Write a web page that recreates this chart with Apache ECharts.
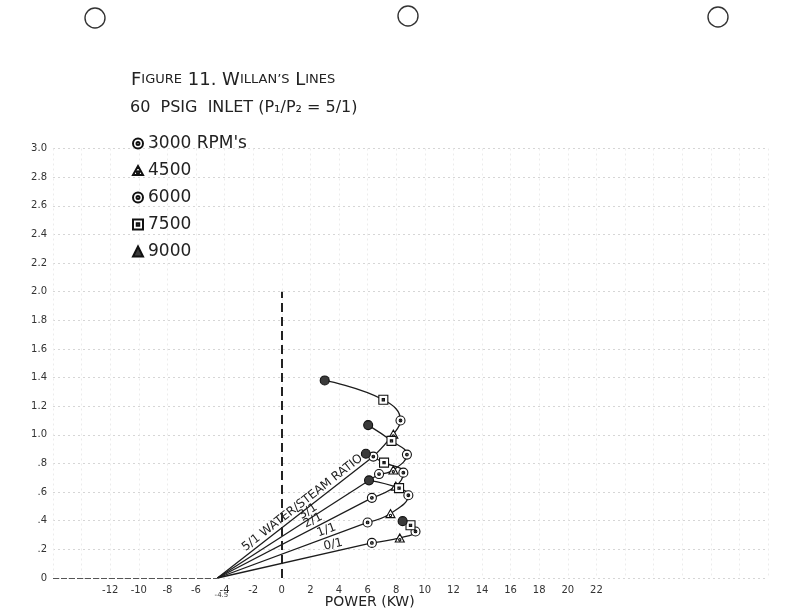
<!DOCTYPE html>
<html><head><meta charset="utf-8">
<script src="https://cdn.jsdelivr.net/npm/echarts@6/dist/echarts.min.js"></script>
<style>html,body{margin:0;padding:0;background:#fff}#c{width:793px;height:612px}</style>
</head><body><div id="c"></div>
<script>
// ---- data ----
const ratioNames = ['0/1', '1/1', '2/1', '3/1', '5/1'];
const rpmNames = ["3000 RPM's", '4500', '6000', '7500', '9000'];
const xTickLabels = ['-12','-10','-8','-6','-4','-2','0','2','4','6','8','10','12','14','16','18','20','22'];
const yTickLabels = ['0','.2','.4','.6','.8','1.0','1.2','1.4','1.6','1.8','2.0','2.2','2.4','2.6','2.8','3.0'];
const noLoadPower = -4.5;      // common intercept of Willan's lines (kW)
const zeroLineTop = 2.0;       // top of dashed zero-power line
// points ordered 3000, 4500, 6000, 7500, 9000 RPM
const power0to1 = [6.3, 8.25, 9.35, 9.0, 8.45];
const flow0to1  = [0.245, 0.28, 0.325, 0.368, 0.397];
const power1to1 = [6.0, 7.6, 8.85, 8.2, 6.1];
const flow1to1  = [0.388, 0.45, 0.578, 0.628, 0.682];
const power2to1 = [6.3, 7.97, 8.5, 7.15, 5.88];
const flow2to1  = [0.56, 0.642, 0.736, 0.806, 0.868];
const power3to1 = [6.8, 7.8, 8.75, 7.67, 6.04];
const flow3to1  = [0.726, 0.755, 0.862, 0.958, 1.068];
const power5to1 = [6.4, 7.8, 8.3, 7.1, 3.0];
const flow5to1  = [0.848, 1.005, 1.1, 1.245, 1.38];

const powers = [power0to1, power1to1, power2to1, power3to1, power5to1];
const flows  = [flow0to1, flow1to1, flow2to1, flow3to1, flow5to1];
const ratioLabels = ['0/1', '1/1', '2/1', '3/1', '5/1 WATER/STEAM RATIO'];

// ---- styling ----
const FONT = 'DejaVu Sans';
const INK = '#1c1c1c';
const symCircleDot = 'path://M0,-10A10,10,0,1,1,0,10A10,10,0,1,1,0,-10ZM0,-3A3,3,0,1,0,0,3A3,3,0,1,0,0,-3Z';
const symTriDot = 'path://M0,-10L10,8L-10,8ZM0,0.5A2.5,2.5,0,1,0,0,5.5A2.5,2.5,0,1,0,0,0.5Z';
const symSquareDot = 'path://M-10,-10L10,-10L10,10L-10,10ZM-2.5,-2.5L-2.5,2.5L2.5,2.5L2.5,-2.5Z';
const rpmSymbols = [symCircleDot, symTriDot, symCircleDot, symSquareDot, 'circle'];
const rpmFill = ['#fff', '#fff', '#fff', '#fff', '#3a3a3a'];

const chart = echarts.init(document.getElementById('c'), null, {renderer: 'canvas'});

const series = [];
powers.forEach((P, r) => {
  const F = flows[r];
  series.push({
    type: 'line', name: 'willan ' + ratioNames[r], silent: true, symbol: 'none',
    lineStyle: {color: INK, width: 1.3}, z: 2,
    data: [[noLoadPower, 0], [P[0], F[0]]],
    markLine: r === 0 ? {
      symbol: 'none', silent: true, label: {show: false},
      data: [
        [{coord: [0, 0], lineStyle: {type: [9, 5], width: 2, color: '#222'}}, {coord: [0, zeroLineTop]}],
        [{coord: [-16, 0], lineStyle: {type: [6, 2], width: 1, color: '#555'}}, {coord: [noLoadPower, 0]}]
      ]
    } : undefined
  });
  series.push({
    type: 'line', name: 'curve ' + ratioNames[r], silent: true, symbol: 'none', smooth: 0.45,
    lineStyle: {color: INK, width: 1.3}, z: 2,
    data: P.map((x, i) => [x, F[i]])
  });
});
rpmNames.forEach((name, i) => {
  series.push({
    type: 'scatter', name: name, symbol: rpmSymbols[i], symbolSize: 9, symbolKeepAspect: true, z: 5,
    itemStyle: {color: rpmFill[i], borderColor: '#111', borderWidth: 1.1, opacity: 1},
    data: powers.map((P, r) => [P[i], flows[r][i]])
  });
});

const option = {
  backgroundColor: '#fff',
  animation: false,
  textStyle: {fontFamily: FONT},
  title: [
    {left: 126, top: 66, text: '{b|F}{s|IGURE} {b|11. W}{s|ILLAN\u2019S} {b|L}{s|INES}',
     textStyle: {fontWeight: 'normal', rich: {
       b: {fontSize: 18, fontFamily: FONT, fontWeight: 'normal', color: '#222'},
       s: {fontSize: 13, fontFamily: FONT, fontWeight: 'normal', color: '#222'}}}},
    {left: 125, top: 95, text: '60  PSIG  INLET (P\u2081/P\u2082 = 5/1)',
     textStyle: {fontSize: 16, fontWeight: 'normal', fontFamily: FONT, color: '#222'}}
  ],
  legend: {
    orient: 'vertical', left: 127, top: 130, itemGap: 10, itemWidth: 10, itemHeight: 10,
    textStyle: {fontSize: 17, color: '#222', fontFamily: FONT},
    data: rpmNames.map((n, i) => i === 4 ? {name: n, icon: 'triangle'} : {name: n}),
    selectedMode: false
  },
  grid: {left: 53, right: 25, top: 148.5, bottom: 34},
  xAxis: {
    type: 'value', min: -16, max: 34, interval: 2,
    axisLine: {show: false}, axisTick: {show: false},
    axisLabel: {fontSize: 10, color: '#333', margin: 7,
      formatter: v => xTickLabels.includes(String(v)) ? String(v) : ''},
    splitLine: {show: true, lineStyle: {color: '#ececec', type: [2, 3]}}
  },
  yAxis: {
    type: 'value', min: 0, max: 3, interval: 0.2,
    axisLine: {show: false}, axisTick: {show: false},
    axisLabel: {fontSize: 10, color: '#333', margin: 6,
      formatter: v => yTickLabels[Math.round(v / 0.2)]},
    splitLine: {show: true, lineStyle: {color: '#d6d6d6', type: [2, 3]}}
  },
  series: series
};
chart.setOption(option);

// ---- annotations placed through the chart's own coordinate system ----
const toPx = p => chart.convertToPixel({xAxisIndex: 0, yAxisIndex: 0}, p);
const labelAtPower = [3.7, 3.3, 2.4, 2.1, 1.75];
const graphics = [];
powers.forEach((P, r) => {
  const F = flows[r];
  const a = toPx([noLoadPower, 0]);
  const b = toPx([P[0], F[0]]);
  const t = (labelAtPower[r] - noLoadPower) / (P[0] - noLoadPower);
  const pt = [a[0] + t * (b[0] - a[0]), a[1] + t * (b[1] - a[1])];
  const ang = Math.atan2(a[1] - b[1], b[0] - a[0]);
  graphics.push({
    type: 'text', x: pt[0], y: pt[1], rotation: ang, silent: true,
    style: {text: ratioLabels[r], x: 0, y: -1, align: 'center', verticalAlign: 'bottom',
      font: '12px ' + FONT, fill: '#222'}
  });
});
const nl = toPx([noLoadPower, 0]);
graphics.push({type: 'text', x: nl[0] + 4, y: nl[1] + 14, silent: true,
  style: {text: '-4.5', align: 'center', verticalAlign: 'top', font: '7px ' + FONT, fill: '#333'}});
const nm = toPx([6.15, 0]);
graphics.push({type: 'text', x: nm[0], y: nm[1] + 24, silent: true,
  style: {text: 'POWER (KW)', align: 'center', verticalAlign: 'middle', font: '14px ' + FONT, fill: '#222'}});
// punched holes of the original sheet
[[95, 18], [408, 16], [718, 17]].forEach(c => graphics.push({
  type: 'circle', silent: true, shape: {cx: c[0], cy: c[1], r: 10},
  style: {fill: '#fff', stroke: '#333', lineWidth: 1.4}
}));
chart.setOption({graphic: graphics});
</script>
</body></html>
